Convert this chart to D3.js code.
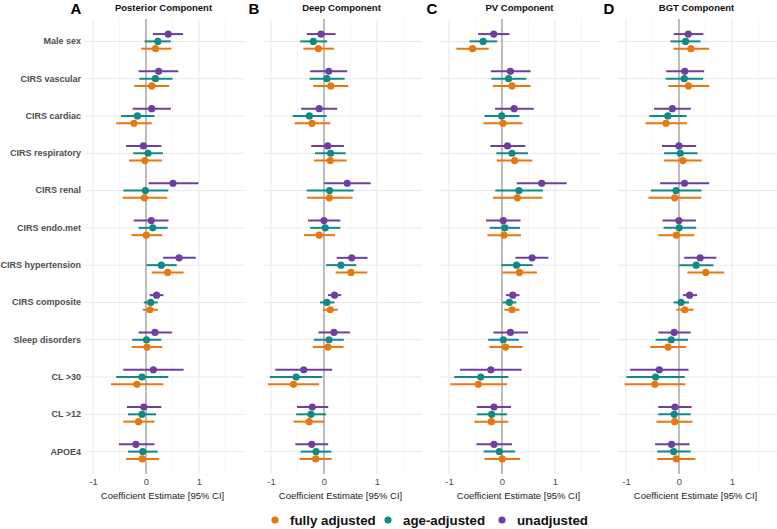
<!DOCTYPE html>
<html>
<head>
<meta charset="utf-8">
<script src="https://cdn.jsdelivr.net/npm/d3@7"></script>
<style>
  body { margin: 0; background: #fff; }
  text { font-family: "Liberation Sans", Arial, sans-serif; }
</style>
</head>
<body>
<div id="chart"></div>
<script>
// layout
var width = 777
var height = 529
var plotTop = 19
var plotBottom = 474
var panelWidth = 159
var panelLefts = [85, 263, 441, 618]

var colors = {
  fully: "#E8770E",
  age: "#108A84",
  unadj: "#6E3FA0"
}

// data
var predictors = ["Male sex", "CIRS vascular", "CIRS cardiac", "CIRS respiratory", "CIRS renal",
  "CIRS endo.met", "CIRS hypertension", "CIRS composite", "Sleep disorders", "CL >30", "CL >12", "APOE4"]
var panelLetters = ["A", "B", "C", "D"]
var panelTitles = ["Posterior Component", "Deep Component", "PV Component", "BGT Component"]
var models = ["unadj", "age", "fully"]
var legendLabels = ["fully adjusted", "age-adjusted", "unadjusted"]
var xTicks = [-1, 0, 1]
var xMinor = [-0.5, 0.5, 1.5]

// [estimate, low, high] per predictor, per model, per panel
var posterior = {
  unadj: [[0.42, 0.13, 0.70], [0.24, -0.14, 0.61], [0.11, -0.25, 0.47], [-0.05, -0.375, 0.29], [0.51, 0.05, 0.99], [0.10, -0.23, 0.425],
    [0.625, 0.325, 0.94], [0.20, 0.07, 0.33], [0.17, -0.14, 0.49], [0.14, -0.43, 0.71], [-0.04, -0.36, 0.29], [-0.19, -0.51, 0.16]],
  age: [[0.225, -0.025, 0.47], [0.18, -0.125, 0.50], [-0.16, -0.47, 0.16], [0.04, -0.24, 0.32], [-0.01, -0.425, 0.42], [0.13, -0.14, 0.41],
    [0.29, 0.01, 0.58], [0.09, -0.04, 0.225], [0.01, -0.26, 0.29], [-0.075, -0.56, 0.42], [-0.075, -0.34, 0.19], [-0.06, -0.34, 0.22]],
  fully: [[0.18, -0.09, 0.48], [0.11, -0.22, 0.44], [-0.225, -0.56, 0.11], [-0.02, -0.32, 0.30], [-0.03, -0.44, 0.40], [0.006, -0.275, 0.31],
    [0.41, 0.11, 0.71], [0.075, -0.06, 0.225], [0.02, -0.27, 0.31], [-0.17, -0.66, 0.33], [-0.14, -0.43, 0.16], [-0.07, -0.375, 0.25]]
}
var deep = {
  unadj: [[-0.055, -0.325, 0.22], [0.09, -0.26, 0.44], [-0.09, -0.43, 0.25], [0.07, -0.24, 0.375], [0.44, 0.0, 0.88], [0.0, -0.30, 0.31],
    [0.525, 0.24, 0.82], [0.20, 0.075, 0.325], [0.19, -0.105, 0.49], [-0.38, -0.92, 0.155], [-0.22, -0.51, 0.08], [-0.23, -0.54, 0.08]],
  age: [[-0.20, -0.45, 0.06], [0.055, -0.27, 0.39], [-0.275, -0.59, 0.05], [0.125, -0.17, 0.41], [0.105, -0.325, 0.56], [0.025, -0.26, 0.31],
    [0.32, 0.04, 0.61], [0.055, -0.075, 0.20], [0.095, -0.19, 0.375], [-0.525, -1.02, -0.03], [-0.245, -0.525, 0.04], [-0.15, -0.44, 0.14]],
  fully: [[-0.105, -0.39, 0.19], [0.13, -0.20, 0.46], [-0.225, -0.55, 0.12], [0.12, -0.19, 0.425], [0.10, -0.32, 0.54], [-0.09, -0.375, 0.21],
    [0.51, 0.22, 0.82], [0.12, -0.02, 0.26], [0.075, -0.21, 0.37], [-0.575, -1.055, -0.09], [-0.28, -0.575, 0.006], [-0.155, -0.46, 0.145]]
}
var pv = {
  unadj: [[-0.155, -0.45, 0.14], [0.16, -0.21, 0.54], [0.23, -0.13, 0.60], [0.105, -0.22, 0.44], [0.75, 0.28, 1.22], [0.025, -0.30, 0.35],
    [0.57, 0.255, 0.875], [0.205, 0.075, 0.33], [0.16, -0.16, 0.49], [-0.21, -0.79, 0.37], [-0.15, -0.475, 0.17], [-0.15, -0.48, 0.19]],
  age: [[-0.355, -0.61, -0.09], [0.125, -0.20, 0.46], [-0.005, -0.33, 0.33], [0.19, -0.105, 0.49], [0.32, -0.125, 0.775], [0.055, -0.23, 0.34],
    [0.275, -0.01, 0.58], [0.14, 0.01, 0.27], [0.025, -0.26, 0.32], [-0.40, -0.90, 0.12], [-0.195, -0.475, 0.095], [-0.05, -0.345, 0.25]],
  fully: [[-0.555, -0.86, -0.25], [0.19, -0.17, 0.54], [0.02, -0.35, 0.39], [0.24, -0.10, 0.575], [0.29, -0.17, 0.76], [0.04, -0.275, 0.36],
    [0.33, 0.01, 0.66], [0.19, 0.045, 0.33], [0.07, -0.24, 0.39], [-0.445, -0.975, 0.095], [-0.20, -0.52, 0.12], [0.005, -0.33, 0.34]]
}
var bgt = {
  unadj: [[0.175, -0.10, 0.46], [0.11, -0.24, 0.475], [-0.125, -0.47, 0.225], [0.0, -0.32, 0.325], [0.105, -0.355, 0.57], [0.0, -0.31, 0.32],
    [0.40, 0.10, 0.705], [0.20, 0.075, 0.34], [-0.09, -0.39, 0.22], [-0.37, -0.92, 0.18], [-0.075, -0.39, 0.24], [-0.14, -0.45, 0.20]],
  age: [[0.125, -0.16, 0.405], [0.10, -0.25, 0.455], [-0.21, -0.56, 0.145], [0.025, -0.28, 0.35], [-0.055, -0.53, 0.425], [0.005, -0.29, 0.325],
    [0.325, 0.006, 0.65], [0.04, -0.10, 0.19], [-0.145, -0.44, 0.17], [-0.44, -0.99, 0.11], [-0.09, -0.39, 0.22], [-0.10, -0.41, 0.22]],
  fully: [[0.225, -0.10, 0.57], [0.18, -0.20, 0.57], [-0.245, -0.63, 0.15], [0.075, -0.28, 0.43], [-0.08, -0.575, 0.42], [-0.05, -0.39, 0.29],
    [0.505, 0.16, 0.855], [0.11, -0.05, 0.275], [-0.205, -0.54, 0.13], [-0.455, -1.025, 0.12], [-0.08, -0.425, 0.255], [-0.05, -0.41, 0.31]]
}
var panelData = [posterior, deep, pv, bgt]

var svg = d3.select("#chart").append("svg")
  .attr("width", width)
  .attr("height", height)

var yScale = d3.scaleBand()
  .domain(predictors)
  .range([plotTop, plotBottom])
  .paddingOuter(0.1)

var offset = d3.scalePoint()
  .domain(models)
  .range([-7.3, 7.3])

panelLefts.forEach(function(left, p) {
  var xScale = d3.scaleLinear()
    .domain([-1.15, 1.85])
    .range([left, left + panelWidth])

  var g = svg.append("g")

  // grid
  g.selectAll(".minor").data(xMinor).enter().append("line")
    .attr("x1", d => xScale(d)).attr("x2", d => xScale(d))
    .attr("y1", plotTop).attr("y2", plotBottom)
    .attr("stroke", "#f3f3f3").attr("stroke-width", 0.8)
  g.selectAll(".major").data(xTicks).enter().append("line")
    .attr("x1", d => xScale(d)).attr("x2", d => xScale(d))
    .attr("y1", plotTop).attr("y2", plotBottom)
    .attr("stroke", "#e8e8e8").attr("stroke-width", 1)
  g.selectAll(".hgrid").data(predictors).enter().append("line")
    .attr("x1", left).attr("x2", left + panelWidth)
    .attr("y1", d => yScale(d) + yScale.bandwidth() / 2)
    .attr("y2", d => yScale(d) + yScale.bandwidth() / 2)
    .attr("stroke", "#e8e8e8").attr("stroke-width", 1)

  // zero line
  g.append("line")
    .attr("x1", xScale(0)).attr("x2", xScale(0))
    .attr("y1", plotTop).attr("y2", plotBottom)
    .attr("stroke", "#aaaaaa").attr("stroke-width", 1.5)

  // x axis
  var xAxis = d3.axisBottom(xScale).tickValues(xTicks).tickSize(0).tickPadding(4)
    .tickFormat(d3.format("d"))
  var ax = g.append("g")
    .attr("transform", "translate(0," + plotBottom + ")")
    .call(xAxis)
  ax.select(".domain").remove()
  ax.selectAll("text")
    .attr("fill", "#4d4d4d")
    .style("font-size", "9.5px")
    .text(d => d < 0 ? "-" + Math.abs(d) : d)

  g.append("text")
    .attr("x", left + panelWidth / 2 - 2)
    .attr("y", 499)
    .attr("text-anchor", "middle")
    .style("font-size", "9.5px")
    .attr("fill", "#222")
    .text("Coefficient Estimate [95% CI]")

  // titles
  g.append("text")
    .attr("x", left + panelWidth / 2 - 1)
    .attr("y", 11)
    .attr("text-anchor", "middle")
    .style("font-size", "9.5px")
    .style("font-weight", "bold")
    .attr("fill", "#111")
    .text(panelTitles[p])
  g.append("text")
    .attr("x", left - 9)
    .attr("y", 14)
    .attr("text-anchor", "middle")
    .style("font-size", "15px")
    .style("font-weight", "bold")
    .attr("fill", "#000")
    .text(panelLetters[p])

  // y labels only on first panel
  if (p === 0) {
    var yAxis = d3.axisLeft(yScale).tickSize(0).tickPadding(4)
    var ay = g.append("g")
      .attr("transform", "translate(" + left + ",0)")
      .call(yAxis)
    ay.select(".domain").remove()
    ay.selectAll("text")
      .attr("fill", "#4d4d4d")
      .style("font-size", "9px")
      .style("font-weight", "bold")
  }

  // marks
  var data = panelData[p]
  models.forEach(function(m) {
    var rows = data[m].map(function(v, i) {
      return { predictor: predictors[i], est: v[0], lo: v[1], hi: v[2] }
    })
    var cy = d => yScale(d.predictor) + yScale.bandwidth() / 2 + offset(m)
    g.selectAll(".ci-" + m).data(rows).enter().append("line")
      .attr("x1", d => xScale(d.lo)).attr("x2", d => xScale(d.hi))
      .attr("y1", cy).attr("y2", cy)
      .attr("stroke", colors[m]).attr("stroke-width", 2)
    g.selectAll(".pt-" + m).data(rows).enter().append("circle")
      .attr("cx", d => xScale(d.est)).attr("cy", cy)
      .attr("r", 3.6)
      .attr("fill", colors[m])
  })
})

// legend
var legendKeys = ["fully", "age", "unadj"]
var legendX = [275, 388, 502]
var legend = svg.append("g")
legendKeys.forEach(function(k, i) {
  legend.append("circle")
    .attr("cx", legendX[i]).attr("cy", 520)
    .attr("r", 3.6).attr("fill", colors[k])
  legend.append("text")
    .attr("x", legendX[i] + 15).attr("y", 525)
    .style("font-size", "13.3px")
    .style("font-weight", "bold")
    .attr("fill", "#111")
    .text(legendLabels[i])
})
</script>
</body>
</html>
